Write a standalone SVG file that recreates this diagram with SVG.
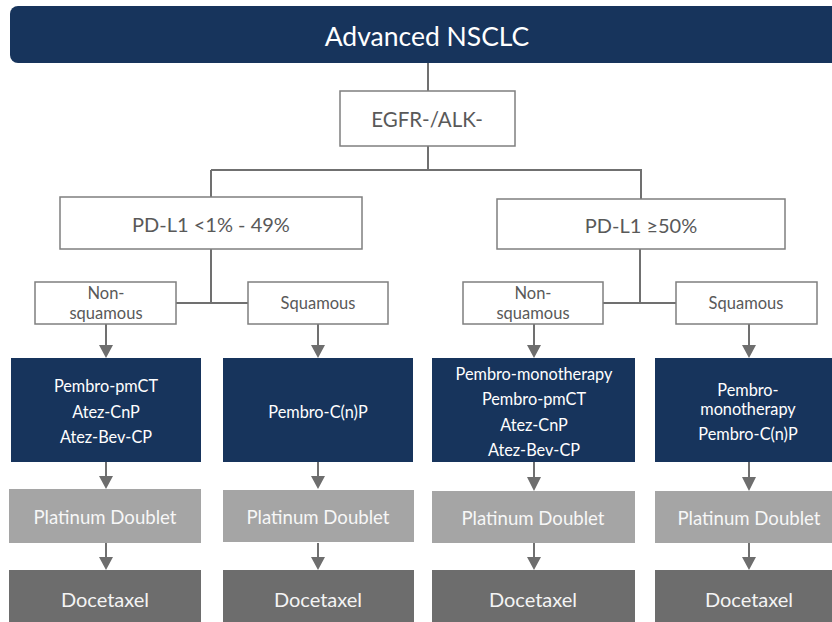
<svg xmlns="http://www.w3.org/2000/svg" width="832" height="622" viewBox="0 0 832 622">
  <defs>
    <style>
      text { font-family: Lato, "Open Sans", "Liberation Sans", sans-serif; text-anchor: middle; dominant-baseline: central; }
      .outline { fill: #ffffff; stroke: #7f7f7f; stroke-width: 1.5; }
      .outline-text { fill: #595959; }
      .small { font-size: 16.5px; }
      .navy { fill: #17345c; }
      .navy-text { fill: #ffffff; font-size: 16.3px; }
      .plat { fill: #a5a5a5; }
      .plat-text { fill: #f7f7f7; font-size: 18.6px; }
      .doce { fill: #6d6d6d; }
      .doce-text { fill: #f4f4f4; font-size: 20px; }
      .wire { fill: none; stroke: #707070; stroke-width: 2; }
      .head { fill: #6e6e6e; }
    </style>
  </defs>

  <rect width="832" height="622" fill="#ffffff"/>

  <!-- connectors -->
  <g id="connectors">
    <path class="wire" d="M428,63 V91"/>
    <path class="wire" d="M428,146 V170 M211,170 H642 M211,170 V197 M641,170 V199"/>
    <path class="wire" d="M211,249 V303 M176,303 H248"/>
    <path class="wire" d="M640,249 V303 M603,303 H676"/>
    <!-- arrows: shaft + head -->
    <g>
      <path class="wire" d="M106,324 V346 M318,324 V346 M534,324 V346 M749,324 V346"/>
      <path class="head" d="M99,345 H113 L106,358 Z M311,345 H325 L318,358 Z M527,345 H541 L534,358 Z M742,345 H756 L749,358 Z"/>
      <path class="wire" d="M106,462 V477 M318,462 V477 M534,462 V478 M749,462 V478"/>
      <path class="head" d="M99,476 H113 L106,489 Z M311,476 H325 L318,489 Z M527,477 H541 L534,491 Z M742,477 H756 L749,491 Z"/>
      <path class="wire" d="M106,543 V558 M318,543 V558 M534,543 V558 M749,543 V558"/>
      <path class="head" d="M99,557 H113 L106,570 Z M311,557 H325 L318,570 Z M527,557 H541 L534,570 Z M742,557 H756 L749,570 Z"/>
    </g>
  </g>

  <!-- header -->
  <g id="advanced-nsclc">
    <rect class="navy" x="10" y="6" width="840" height="57" rx="8"/>
    <text x="427" y="36" fill="#ffffff" style="font-size:26.5px">Advanced NSCLC</text>
  </g>

  <g id="egfr-alk">
    <rect class="outline" x="340" y="91" width="175" height="55"/>
    <text class="outline-text" x="427" y="119" style="font-size:20.5px">EGFR-/ALK-</text>
  </g>

  <g id="pdl1-low">
    <rect class="outline" x="60" y="197" width="302" height="52"/>
    <text class="outline-text" x="211" y="224" style="font-size:20px">PD-L1 &lt;1% - 49%</text>
  </g>

  <g id="pdl1-high">
    <rect class="outline" x="497" y="199" width="288" height="50"/>
    <text class="outline-text" x="641" y="225" style="font-size:20px">PD-L1 ≥50%</text>
  </g>

  <g id="low-nonsquamous">
    <rect class="outline" x="35" y="282" width="141" height="42"/>
    <text class="outline-text small" x="106" y="293">Non-</text>
    <text class="outline-text small" x="106" y="313">squamous</text>
  </g>

  <g id="low-squamous">
    <rect class="outline" x="248" y="282" width="140" height="42"/>
    <text class="outline-text small" x="318" y="303">Squamous</text>
  </g>

  <g id="high-nonsquamous">
    <rect class="outline" x="463" y="282" width="140" height="42"/>
    <text class="outline-text small" x="533" y="293">Non-</text>
    <text class="outline-text small" x="533" y="313">squamous</text>
  </g>

  <g id="high-squamous">
    <rect class="outline" x="676" y="282" width="141" height="42"/>
    <text class="outline-text small" x="746" y="303">Squamous</text>
  </g>

  <g id="low-nonsq-regimens">
    <rect class="navy" x="11" y="358" width="190" height="104"/>
    <text class="navy-text" x="106" y="385">Pembro-pmCT</text>
    <text class="navy-text" x="106" y="411">Atez-CnP</text>
    <text class="navy-text" x="106" y="436">Atez-Bev-CP</text>
  </g>

  <g id="low-sq-regimens">
    <rect class="navy" x="223" y="358" width="190" height="104"/>
    <text class="navy-text" x="318" y="411">Pembro-C(n)P</text>
  </g>

  <g id="high-nonsq-regimens">
    <rect class="navy" x="432" y="358" width="203" height="104"/>
    <text class="navy-text" x="534" y="373">Pembro-monotherapy</text>
    <text class="navy-text" x="534" y="398">Pembro-pmCT</text>
    <text class="navy-text" x="534" y="424">Atez-CnP</text>
    <text class="navy-text" x="534" y="449">Atez-Bev-CP</text>
  </g>

  <g id="high-sq-regimens">
    <rect class="navy" x="655" y="358" width="190" height="104"/>
    <text class="navy-text" x="748" y="389">Pembro-</text>
    <text class="navy-text" x="748" y="408">monotherapy</text>
    <text class="navy-text" x="748" y="433">Pembro-C(n)P</text>
  </g>

  <g id="platinum-1">
    <rect class="plat" x="9" y="489" width="192" height="54"/>
    <text class="plat-text" x="105" y="517">Platinum Doublet</text>
  </g>
  <g id="platinum-2">
    <rect class="plat" x="223" y="490" width="191" height="52"/>
    <text class="plat-text" x="318" y="517">Platinum Doublet</text>
  </g>
  <g id="platinum-3">
    <rect class="plat" x="432" y="491" width="203" height="52"/>
    <text class="plat-text" x="533" y="518">Platinum Doublet</text>
  </g>
  <g id="platinum-4">
    <rect class="plat" x="655" y="491" width="190" height="52"/>
    <text class="plat-text" x="749" y="518">Platinum Doublet</text>
  </g>

  <g id="docetaxel-1">
    <rect class="doce" x="9" y="570" width="192" height="60"/>
    <text class="doce-text" x="105" y="599">Docetaxel</text>
  </g>
  <g id="docetaxel-2">
    <rect class="doce" x="223" y="570" width="191" height="60"/>
    <text class="doce-text" x="318" y="599">Docetaxel</text>
  </g>
  <g id="docetaxel-3">
    <rect class="doce" x="432" y="570" width="203" height="60"/>
    <text class="doce-text" x="533" y="599">Docetaxel</text>
  </g>
  <g id="docetaxel-4">
    <rect class="doce" x="655" y="570" width="190" height="60"/>
    <text class="doce-text" x="749" y="599">Docetaxel</text>
  </g>
</svg>
